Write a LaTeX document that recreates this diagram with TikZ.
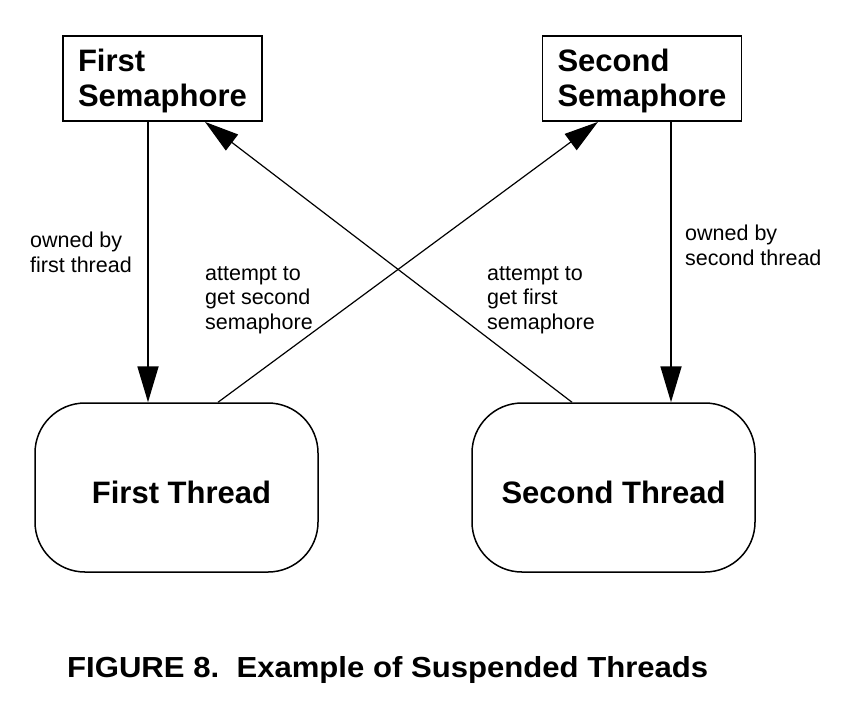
\documentclass[tikz,border=0pt]{standalone}
\usepackage{fontspec}
\setmainfont{Liberation Sans}
\usetikzlibrary{arrows.meta}
\tikzset{
  sembox/.style={draw, line width=1.8pt, minimum width=199pt, minimum height=85pt,
    text width=169pt, inner xsep=15pt, align=left, text depth=36pt,
    font=\fontsize{31pt}{34.5pt}\selectfont\bfseries},
  threadbox/.style={draw, line width=1.5pt, rounded corners=50pt, minimum width=283pt,
    minimum height=169pt, text height=31pt, text depth=0pt,
    font=\fontsize{31pt}{34pt}\selectfont\bfseries},
  lbl/.style={anchor=north west, inner sep=0pt, align=left,
    font=\fontsize{21.5pt}{24.5pt}\selectfont},
  owns/.style={line width=1.8pt, -{Triangle[length=36pt,width=21pt]}},
  wants/.style={line width=1.2pt, -{Triangle[length=34pt,width=20pt]}}
}
\begin{document}
\begin{tikzpicture}[x=1pt,y=-1pt]
\useasboundingbox (0,0) rectangle (845,713);
\node[sembox] (s1) at (162.5,78.5) {First\\Semaphore};
\node[sembox] (s2) at (642,78.5) {Second\\Semaphore};
\node[threadbox] (t1) at (176.5,487.5) {\hspace*{10pt}First Thread};
\node[threadbox] (t2) at (613.5,487.5) {Second Thread};
\draw[owns] ([xshift=-14.5pt]s1.south) -- ([xshift=-28.5pt]t1.north);
\draw[owns] ([xshift=29pt]s2.south) -- ([xshift=57.5pt]t2.north);
\draw[wants] ([xshift=41.5pt]t1.north) -- ([xshift=-44pt]s2.south);
\draw[wants] ([xshift=-41.5pt]t2.north) -- ([xshift=42.5pt]s1.south);
\node[lbl] (l1) at (30,232) {owned by\\first thread};
\node[lbl] (l2) at (205,266) {attempt to\\get second\\semaphore};
\node[lbl] (l3) at (487,266) {attempt to\\get first\\semaphore};
\node[lbl] (l4) at (685,225) {owned by\\second thread};
\node[anchor=base west, inner sep=0pt, font=\fontsize{29pt}{34pt}\selectfont\bfseries] (cap) at (67,677)
  {\resizebox{641pt}{\height}{FIGURE 8.\ \ Example of Suspended Threads}};
\end{tikzpicture}
\end{document}
